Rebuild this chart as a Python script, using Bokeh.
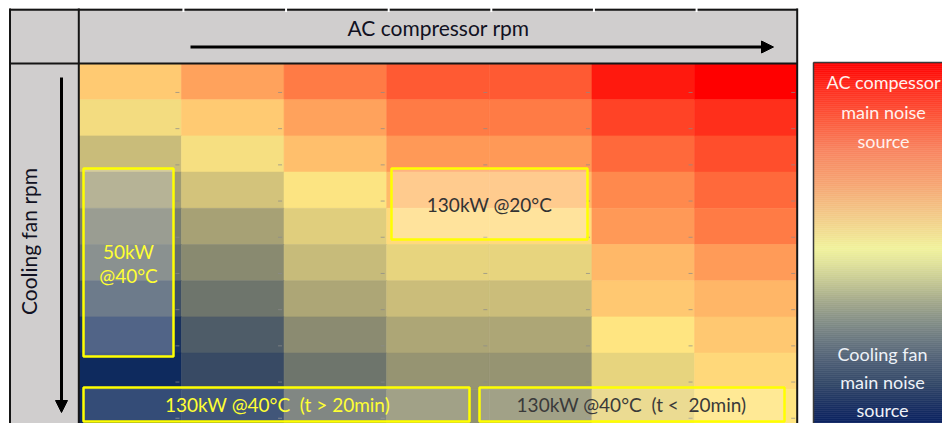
import numpy as np
from bokeh.plotting import figure
from bokeh.models import Range1d, LinearColorMapper, ColumnDataSource, Arrow, NormalHead
from bokeh.transform import transform
from bokeh.core.properties import value
from bokeh.embed import file_html
from bokeh.resources import INLINE

# ---------------- data ----------------
compressor_steps = [0, 1, 2, 3, 4, 5, 6]          # AC compressor rpm (increasing ->)
fan_steps = [0, 1, 2, 3, 4, 5, 6, 7, 8, 9]        # Cooling fan rpm (increasing downwards)
# share of noise: 0 = cooling fan dominates, 1 = AC compressor dominates
row0 = [0.559, 0.648, 0.733, 0.804, 0.804, 0.943, 1.000]
row1 = [0.475, 0.559, 0.648, 0.733, 0.733, 0.852, 0.895]
row2 = [0.388, 0.483, 0.583, 0.665, 0.665, 0.770, 0.830]
row3 = [0.300, 0.410, 0.495, 0.596, 0.596, 0.700, 0.770]
row4 = [0.220, 0.320, 0.436, 0.524, 0.524, 0.665, 0.733]
row5 = [0.176, 0.257, 0.386, 0.452, 0.452, 0.600, 0.661]
row6 = [0.100, 0.200, 0.330, 0.392, 0.392, 0.565, 0.605]
row7 = [0.020, 0.133, 0.261, 0.330, 0.330, 0.500, 0.565]
row8 = [0.000, 0.089, 0.200, 0.284, 0.284, 0.452, 0.530]
row9 = [0.000, 0.035, 0.190, 0.270, 0.270, 0.450, 0.500]
noise_share = [row0, row1, row2, row3, row4, row5, row6, row7, row8, row9]

x_title = "AC compressor rpm"
y_title = "Cooling fan rpm"
legend_top = ["AC compessor", "main noise", "source"]
legend_bottom = ["Cooling fan", "main noise", "source"]
box_labels = ["50kW\n@40°C", "130kW @20°C",
              "130kW @40°C \u00a0(t > 20min)", "130kW @40°C \u00a0(t < \u00a020min)"]

# ---------------- layout helpers (picture pixel -> data) ----------------
W, H = 942, 423
GX0, GY0 = 78.3, 63.0
CW = (796.7 - 78.3) / 7
RH = 36.2

def dx(ix):
    return (ix - GX0) / CW

def dy(iy):
    return (iy - GY0) / RH

FONT = value("Lato")

p = figure(width=W, height=H, output_backend="svg", toolbar_location=None,
           x_range=Range1d(dx(0), dx(W)),
           y_range=Range1d(dy(H), dy(0)),
           x_axis_location=None, y_axis_location=None,
           min_border=0, outline_line_color=None,
           background_fill_color="white", border_fill_color="white")
p.grid.visible = False

# ---------------- header / left column background ----------------
GRAY = "#D0CECE"
p.quad(left=[dx(9), dx(9)], right=[dx(797), dx(78.3)],
       top=[dy(8), dy(63)], bottom=[dy(63), dy(440)],
       fill_color=GRAY, line_color=None)

# ---------------- heatmap cells ----------------
low_c = np.array([14, 42, 94]); mid_c = np.array([255, 230, 130]); high_c = np.array([255, 0, 0])
palette = []
for i in range(256):
    t = i / 255
    if t <= 0.5:
        c = low_c + (mid_c - low_c) * (t / 0.5)
    else:
        c = mid_c + (high_c - mid_c) * ((t - 0.5) / 0.5)
    palette.append("#%02x%02x%02x" % tuple(int(round(v)) for v in c))
mapper = LinearColorMapper(palette=palette, low=0, high=1)

xs, ys, vs = [], [], []
for r in fan_steps:
    for c in compressor_steps:
        xs.append(c + 0.5); ys.append(r + 0.5); vs.append(noise_share[r][c])
src = ColumnDataSource(dict(x=xs, y=ys, v=vs))
p.rect(x="x", y="y", width=1, height=1, source=src,
       fill_color=transform("v", mapper), line_color=transform("v", mapper), line_width=0.6)

# small grey cell marks (spreadsheet artefacts)
mx0, mx1, my = [], [], []
for r in fan_steps:
    for c in compressor_steps:
        mx0.append(c + 1 - 6 / CW); mx1.append(c + 1 - 2 / CW); my.append(r + 0.8)
p.segment(x0=mx0, y0=my, x1=mx1, y1=my, line_color="#8a8a8a", line_width=1, line_alpha=0.7)

# ---------------- annotation boxes ----------------
YEL = "#FFFF00"
p.quad(left=[dx(83), dx(391)], right=[dx(173), dx(587)],
       top=[dy(168), dy(168)], bottom=[dy(356), dy(239)],
       fill_color="white", fill_alpha=0.25, line_color=YEL, line_width=2.5)
p.quad(left=[dx(83), dx(479)], right=[dx(469), dx(784)],
       top=[dy(387), dy(387)], bottom=[dy(421), dy(421)],
       fill_color="white", fill_alpha=0.16, line_color=YEL, line_width=2.5)

p.text(x=[dx(128), dx(128)], y=[dy(251), dy(275)], text=box_labels[0].split("\n"),
       text_font=FONT, text_font_size="19px", text_color="#FFFF33",
       text_align="center", text_baseline="middle")
p.text(x=[dx(489)], y=[dy(204)], text=[box_labels[1]],
       text_font=FONT, text_font_size="19px", text_color="#333333",
       text_align="center", text_baseline="middle")
p.text(x=[dx(277)], y=[dy(404)], text=[box_labels[2]],
       text_font=FONT, text_font_size="19px", text_color="#FFFF33",
       text_align="center", text_baseline="middle")
p.text(x=[dx(631)], y=[dy(404)], text=[box_labels[3]],
       text_font=FONT, text_font_size="19px", text_color="#3a3a3a",
       text_align="center", text_baseline="middle")

# ---------------- table borders ----------------
BL = "#151515"
p.segment(x0=[dx(9), dx(9.5), dx(78.3), dx(9), dx(796.7)],
          y0=[dy(9.3), dy(8), dy(8), dy(63), dy(8)],
          x1=[dx(797.5), dx(9.5), dx(78.3), dx(797.5), dx(796.7)],
          y1=[dy(9.3), dy(440), dy(440), dy(63), dy(440)],
          line_color=BL, line_width=2)
gx = [c + 2 / CW for c in compressor_steps[1:]]
p.segment(x0=gx, y0=[dy(7)] * len(gx), x1=gx, y1=[dy(11.5)] * len(gx),
          line_color="white", line_width=2)

# ---------------- arrows & titles ----------------
p.add_layout(Arrow(end=NormalHead(size=12, fill_color="black", line_color="black"),
                   x_start=dx(190), y_start=dy(46.5), x_end=dx(773), y_end=dy(46.5),
                   line_color="black", line_width=3))
p.add_layout(Arrow(end=NormalHead(size=12, fill_color="black", line_color="black"),
                   x_start=dx(61), y_start=dy(77), x_end=dx(61), y_end=dy(412),
                   line_color="black", line_width=3))
p.text(x=[dx(438)], y=[dy(27)], text=[x_title], text_font=FONT, text_font_size="21px",
       text_color="#111122", text_align="center", text_baseline="middle")
p.text(x=[dx(28)], y=[dy(241)], text=[y_title], text_font=FONT, text_font_size="21px",
       text_color="#111122", text_align="center", text_baseline="middle", angle=np.pi / 2)

# ---------------- colour legend bar ----------------
stop_y = [62, 90, 120, 150, 183, 210, 237, 248, 263, 283, 303, 323, 343, 363, 383, 403, 420, 440]
stop_c = ["#FF0000", "#FF3020", "#FC5A3C", "#F88460", "#F6A472", "#F3C485", "#F1E494", "#F1F29C",
          "#E0E29A", "#C2C592", "#A0A68A", "#818C86", "#65737E", "#4B5C74", "#334868", "#1C3262",
          "#0C2360", "#0A2060"]
rgb = np.array([[int(s[i:i + 2], 16) for i in (1, 3, 5)] for s in stop_c], dtype=float)
band_top = np.arange(62, 440, 2.0)
cols = []
for yb in band_top:
    ch = [np.interp(yb + 1, stop_y, rgb[:, k]) for k in range(3)]
    cols.append("#%02x%02x%02x" % tuple(int(round(v)) for v in ch))
p.quad(left=[dx(813)] * len(band_top), right=[dx(980)] * len(band_top),
       top=[dy(v) for v in band_top], bottom=[dy(v + 2) for v in band_top],
       fill_color=cols, line_color=cols, line_width=0.5)
p.segment(x0=[dx(813), dx(813)], y0=[dy(62), dy(62)], x1=[dx(813), dx(980)], y1=[dy(440), dy(62)],
          line_color="#3a3a3a", line_width=1.5)
p.text(x=[dx(883)] * 3, y=[dy(81), dy(111), dy(140)], text=legend_top, text_font=FONT,
       text_font_size="18px", text_color="#FFF2EE", text_align="center", text_baseline="middle")
p.text(x=[dx(882)] * 3, y=[dy(353), dy(381), dy(409)], text=legend_bottom, text_font=FONT,
       text_font_size="18px", text_color="#EEF2F8", text_align="center", text_baseline="middle")

open("out.html", "w").write(file_html(p, INLINE))
